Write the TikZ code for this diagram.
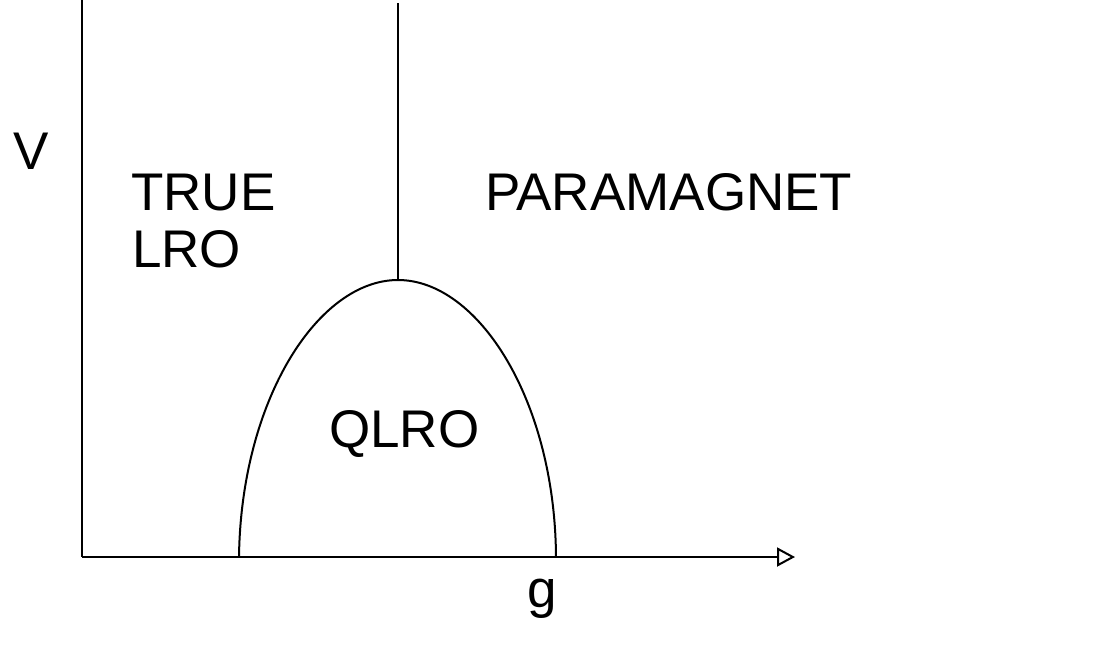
\documentclass[tikz,border=0pt]{standalone}
\usepackage{fontspec}
\setmainfont{Liberation Sans}
\usepackage{tikz}
\usetikzlibrary{arrows.meta}

\begin{document}
\begin{tikzpicture}[
        x=1pt, y=-1pt,
        phase/.style={anchor=base west, inner sep=0pt, font=\fontsize{53}{57}\selectfont},
        boundary/.style={line width=2pt},
    ]
        \useasboundingbox (0,0) rectangle (1107,645);

        % Axes
        \coordinate (origin) at (82,557);
        \coordinate (vtop) at (82,0);
        \coordinate (gend) at (795,557);
        \draw [boundary] (vtop) -- (origin);
        \draw [boundary, -{Triangle[open, length=18pt, width=19pt, line width=2pt]}] (origin) -- (gend);

        % Phase boundaries
        \coordinate (left) at (239,557);
        \coordinate (right) at (556,557);
        \coordinate (dome) at (398,280);
        \coordinate (ceil) at (398,3);
        \draw [boundary] (left) .. controls (241,400) and (318,280) .. (dome)
            .. controls (478,280) and (555,400) .. (right);
        \draw [boundary] (dome) -- (ceil);

        % Labels
        \node (vlabel) [phase] at (13,169) {V};
        \node (glabel) [phase] at (527,607) {g};
        \node (true) [phase] at (131,210) {TRUE};
        \node (lro) [phase] at (132,267) {LRO};
        \node (para) [phase] at (485,210) {PARAMAGNET};
        \node (qlro) [phase] at (329,447) {QLRO};
    \end{tikzpicture}
\end{document}
